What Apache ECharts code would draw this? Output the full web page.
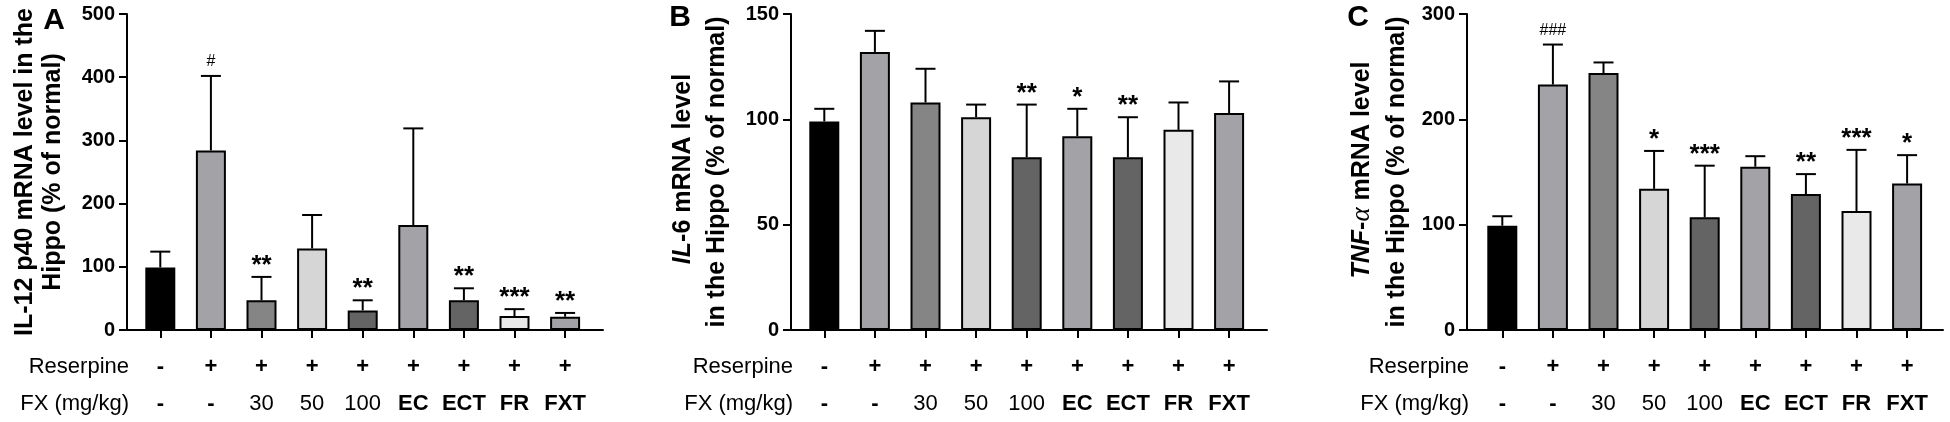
<!DOCTYPE html>
<html>
<head>
<meta charset="utf-8">
<script src="https://cdn.jsdelivr.net/npm/echarts@6/dist/echarts.min.js"></script>
<style>
html,body{margin:0;padding:0;background:#fff;}
#chart{width:1950px;height:422px;}
</style>
</head>
<body>
<div id="chart"></div>
<script>
// ---------- data ----------
const categories = ['Normal', 'Reserpine', 'FX30', 'FX50', 'FX100', 'EC', 'ECT', 'FR', 'FXT'];
const reserpineRow = ['-', '+', '+', '+', '+', '+', '+', '+', '+'];
const fxRow = ['-', '-', '30', '50', '100', 'EC', 'ECT', 'FR', 'FXT'];

const il12Mean = [99, 284, 47, 129, 31, 166, 47, 22, 21];
const il12SD = [25, 118, 37, 53, 16, 153, 19, 11, 6];
const il12Marks = ['', '#', '**', '', '**', '', '**', '***', '**'];
const il12Ticks = [0, 100, 200, 300, 400, 500];

const il6Mean = [99, 132, 108, 101, 82, 92, 82, 95, 103];
const il6SD = [6, 10, 16, 6, 25, 13, 19, 13, 15];
const il6Marks = ['', '', '', '', '**', '*', '**', '', ''];
const il6Ticks = [0, 50, 100, 150];

const tnfMean = [99, 233, 244, 134, 107, 155, 129, 113, 139];
const tnfSD = [9, 38, 10, 36, 49, 10, 19, 58, 27];
const tnfMarks = ['', '###', '', '*', '***', '', '**', '***', '*'];
const tnfTicks = [0, 100, 200, 300];

// ---------- style ----------
const barColors = ['#000000', '#a3a3a7', '#858585', '#d6d6d6', '#646464', '#a3a3a7', '#646464', '#e9e9e9', '#a3a3a7'];
const FONT = "'Liberation Sans', Arial, sans-serif";

const panels = [
  { mean: il12Mean, sd: il12SD, marks: il12Marks, ticks: il12Ticks, axisX: 127, gridLeft: 135 },
  { mean: il6Mean, sd: il6SD, marks: il6Marks, ticks: il6Ticks, axisX: 791, gridLeft: 799 },
  { mean: tnfMean, sd: tnfSD, marks: tnfMarks, ticks: tnfTicks, axisX: 1467, gridLeft: 1477 }
];

const TOP = 14, BOTTOM = 92, CATW = 455.4, LINEW = 476;

const grid = [], xAxis = [], yAxis = [], series = [];

panels.forEach((p, k) => {
  const gMain = k * 2, gLine = k * 2 + 1;
  const tmin = p.ticks[0], tmax = p.ticks[p.ticks.length - 1];
  const step = p.ticks[1] - p.ticks[0];
  grid.push({ left: p.gridLeft, top: TOP, bottom: BOTTOM, width: CATW });
  grid.push({ left: p.axisX, top: TOP, bottom: BOTTOM, width: LINEW });

  xAxis.push({
    gridIndex: gMain, type: 'category', data: categories,
    axisLine: { show: false },
    axisTick: { show: true, alignWithLabel: true, length: 8, lineStyle: { color: '#000', width: 2 } },
    axisLabel: {
      interval: 0, margin: 18, color: '#000', fontFamily: FONT,
      formatter: (v, i) => {
        const f = fxRow[i];
        const tag = /\d/.test(f) ? 'n' : 'b';
        return '{b|' + reserpineRow[i] + '}\n{' + tag + '|' + f + '}';
      },
      rich: {
        b: { fontSize: 22, fontWeight: 'bold', lineHeight: 37, fontFamily: FONT, color: '#000' },
        n: { fontSize: 22, fontWeight: 'normal', lineHeight: 37, fontFamily: FONT, color: '#000' }
      }
    },
    splitLine: { show: false }
  });
  xAxis.push({
    gridIndex: gLine, type: 'value', min: 0, max: 1,
    axisLine: { show: true, lineStyle: { color: '#000', width: 2 } },
    axisTick: { show: false }, axisLabel: { show: false }, splitLine: { show: false }
  });

  yAxis.push({
    gridIndex: gMain, type: 'value', min: tmin, max: tmax, interval: step,
    offset: p.gridLeft - p.axisX,
    axisLine: { show: true, lineStyle: { color: '#000', width: 2 } },
    axisTick: { show: true, length: 8, lineStyle: { color: '#000', width: 2 } },
    axisLabel: { margin: 12, color: '#000', fontSize: 20, fontWeight: 'bold', fontFamily: FONT },
    splitLine: { show: false }
  });
  yAxis.push({ gridIndex: gLine, type: 'value', min: 0, max: 1, show: false });

  series.push({
    type: 'bar', xAxisIndex: gMain, yAxisIndex: gMain,
    data: p.mean,
    barWidth: 30,
    itemStyle: {
      color: (params) => barColors[params.dataIndex],
      borderColor: '#000', borderWidth: 2
    },
    z: 2
  });

  const sd = p.sd, marks = p.marks;
  series.push({
    type: 'custom', xAxisIndex: gMain, yAxisIndex: gMain,
    data: p.mean.map((m, i) => [i, m]),
    encode: { x: 0, y: 1 },
    clip: false, z: 3,
    renderItem: (params, api) => {
      const i = api.value(0), m = api.value(1);
      const s = sd[params.dataIndex];
      const p0 = api.coord([i, m]);
      const p1 = api.coord([i, m + s]);
      const children = [
        { type: 'line', shape: { x1: p0[0], y1: p0[1], x2: p1[0], y2: p1[1] }, style: { stroke: '#000', lineWidth: 2 } },
        { type: 'line', shape: { x1: p1[0] - 10, y1: p1[1], x2: p1[0] + 10, y2: p1[1] }, style: { stroke: '#000', lineWidth: 2 } }
      ];
      const mk = marks[params.dataIndex];
      if (mk) {
        const hash = mk.indexOf('#') >= 0;
        children.push({
          type: 'text', x: p1[0], y: p1[1] - (hash ? 14 : 11),
          style: {
            text: mk, align: 'center', verticalAlign: 'middle',
            fontSize: hash ? 16 : 26, fontWeight: hash ? 'normal' : 'bold',
            fontFamily: FONT, fill: '#000'
          }
        });
      }
      return { type: 'group', children };
    }
  });
});

// ---------- text decorations ----------
function vtext(x, y, text, rich) {
  return {
    type: 'text', x: x, y: y, rotation: Math.PI / 2,
    style: {
      text: text, align: 'center', verticalAlign: 'middle',
      fontSize: 25, fontWeight: 'bold', fontFamily: FONT, fill: '#000',
      rich: rich || {}
    }
  };
}
function htext(x, y, text, opts) {
  return {
    type: 'text', x: x, y: y,
    style: Object.assign({
      text: text, align: 'right', verticalAlign: 'middle',
      fontSize: 22, fontWeight: 'normal', fontFamily: FONT, fill: '#000'
    }, opts || {})
  };
}
const italicRich = {
  i: { fontStyle: 'italic', fontSize: 25, fontWeight: 'bold', fontFamily: FONT, fill: '#000' },
  g: { fontStyle: 'italic', fontSize: 27, fontWeight: 'normal', fontFamily: "'Liberation Serif', 'DejaVu Serif', serif", fill: '#000' }
};

const graphic = [
  htext(54, 21, 'A', { align: 'center', fontSize: 30, fontWeight: 'bold' }),
  htext(680, 18, 'B', { align: 'center', fontSize: 30, fontWeight: 'bold' }),
  htext(1358, 18, 'C', { align: 'center', fontSize: 30, fontWeight: 'bold' }),

  vtext(25, 172, 'IL-12 p40 mRNA level in the'),
  vtext(53, 172, 'Hippo (% of normal)'),
  vtext(683, 169, '{i|IL}-6 mRNA level', italicRich),
  vtext(717, 172, 'in the Hippo (% of normal)'),
  vtext(1362, 170, '{i|TNF}-{g|α} mRNA level', italicRich),
  vtext(1397, 172, 'in the Hippo (% of normal)')
];
panels.forEach((p) => {
  graphic.push(htext(p.axisX + 2, 367, 'Reserpine'));
  graphic.push(htext(p.axisX + 2, 404, 'FX (mg/kg)'));
});

const chart = echarts.init(document.getElementById('chart'), null, { renderer: 'canvas' });
chart.setOption({
  animation: false,
  backgroundColor: '#ffffff',
  textStyle: { fontFamily: FONT },
  grid, xAxis, yAxis, series, graphic
});
</script>
</body>
</html>
